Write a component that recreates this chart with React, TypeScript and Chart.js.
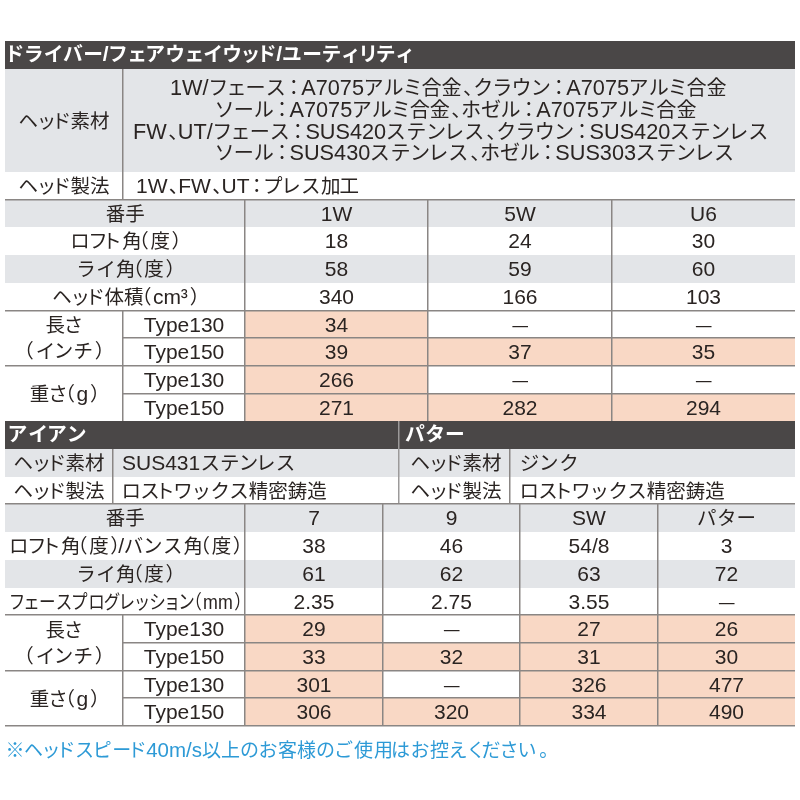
import React, { useEffect, useRef } from "react";
import { Chart, registerables } from "chart.js";

Chart.register(...registerables);

// ---------- data ----------
const driverTitle = "ドライバー/フェアウェイウッド/ユーティリティ";
const driverMaterialLines = [
  "1W/フェース：A7075アルミ合金、クラウン：A7075アルミ合金",
  "ソール：A7075アルミ合金、ホゼル：A7075アルミ合金",
  "FW、UT/フェース：SUS420ステンレス、クラウン：SUS420ステンレス",
  "ソール：SUS430ステンレス、ホゼル：SUS303ステンレス",
];
const driverMethod = "1W、FW、UT：プレス加工";
const driverClubs = ["1W", "5W", "U6"];
const driverLoft = [18, 24, 30];
const driverLie = [58, 59, 60];
const driverVolume = [340, 166, 103];
const driverLength130: (number | null)[] = [34, null, null];
const driverLength150: (number | null)[] = [39, 37, 35];
const driverWeight130: (number | null)[] = [266, null, null];
const driverWeight150: (number | null)[] = [271, 282, 294];

const ironTitle = "アイアン";
const ironMaterial = "SUS431ステンレス";
const ironMethod = "ロストワックス精密鋳造";
const putterTitle = "パター";
const putterMaterial = "ジンク";
const putterMethod = "ロストワックス精密鋳造";
const ironClubs = ["7", "9", "SW", "パター"];
const ironLoft = ["38", "46", "54/8", "3"];
const ironLie = [61, 62, 63, 72];
const ironProgression: (number | null)[] = [2.35, 2.75, 3.55, null];
const ironLength130: (number | null)[] = [29, null, 27, 26];
const ironLength150: (number | null)[] = [33, 32, 31, 30];
const ironWeight130: (number | null)[] = [301, null, 326, 477];
const ironWeight150: (number | null)[] = [306, 320, 334, 490];

const labelMaterial = "ヘッド素材";
const labelMethod = "ヘッド製法";
const labelClub = "番手";
const labelLoft = "ロフト角（度）";
const labelLoftBounce = "ロフト角（度）/バンス角（度）";
const labelLie = "ライ角（度）";
const labelVolume = "ヘッド体積（cm³）";
const labelProgression = "フェースプログレッション（mm）";
const labelLength = ["長さ", "（インチ）"];
const labelWeight = "重さ（g）";
const typeLabels = ["Type130", "Type150"];
const note = "※ヘッドスピード40m/s以上のお客様のご使用はお控えください。";

// ---------- layout (table units) ----------
const TABLE_W = 790;
const MATERIAL_ROWS = 3.73;
const Y_HEAD1 = 0;
const Y_MAT = 1;
const Y_METHOD = Y_MAT + MATERIAL_ROWS;
const Y_T1 = Y_METHOD + 1;
const Y_HEAD2 = Y_T1 + 8;
const Y_IRONHEAD = Y_HEAD2 + 1;
const Y_T2 = Y_IRONHEAD + 2;
const TOTAL_ROWS = Y_T2 + 8;

const SUB_X = 118;
const LABEL_X = 240;
const T1_COLS = [240, 423, 607, 790];
const T2_COLS = [240, 378, 515, 653, 790];
const IRON_SPLIT = 108;
const SEP_X = 394;
const PUTTER_X = 397;
const PUTTER_SPLIT = 505;
const MATERIAL_LINE_X = [165, 210, 128, 210];

// ---------- styles ----------
const C_DARK = "#4a4747";
const C_GRAY = "#e3e5e8";
const C_SALMON = "#f9d8c5";
const C_LINE = "#8a8684";
const C_TEXT = "#2a2422";
const C_BLUE = "#2d9ad6";
const CJK_FAMILY = '"Noto Sans CJK JP", sans-serif';
const LAT_FAMILY = '"Liberation Sans", Arial, sans-serif';
const PAD = 0.08;
const PUNCT_W: Record<string, number> = { "（": 0.5, "）": 0.5, "：": 0.75, "、": 0.55, "。": 0.6 };

type TextStyle = { cjk: number; lat: number; weight?: number; color?: string; maxW?: number };
const BODY: TextStyle = { cjk: 19.5, lat: 21 };
const MATERIAL: TextStyle = { cjk: 20.1, lat: 21.7 };

const fmt = (v: number | null, digits = 0) => (v === null ? "—" : v.toFixed(digits));
const isLatin = (ch: string) => (ch.codePointAt(0) as number) < 0x2000;

function drawRich(
  ctx: CanvasRenderingContext2D,
  s: string,
  x: number,
  yc: number,
  align: "left" | "center" | "right",
  st: TextStyle
) {
  const w = st.weight || 400;
  const cjkFont = `${w} ${st.cjk}px ${CJK_FAMILY}`;
  const latFont = `${w} ${st.lat}px ${LAT_FAMILY}`;
  const chars = Array.from(s);
  const items: { t: string; font: string; dx: number; adv: number }[] = [];
  let total = 0;
  let i = 0;
  ctx.textAlign = "left";
  ctx.textBaseline = "alphabetic";
  while (i < chars.length) {
    if (isLatin(chars[i])) {
      let run = "";
      while (i < chars.length && isLatin(chars[i])) run += chars[i++];
      ctx.font = latFont;
      const wd = ctx.measureText(run).width;
      items.push({ t: run, font: latFont, dx: 0, adv: wd });
      total += wd;
    } else {
      const ch = chars[i++];
      ctx.font = cjkFont;
      const m = ctx.measureText(ch);
      const ink = m.actualBoundingBoxLeft + m.actualBoundingBoxRight;
      let adv = ink > 0 ? Math.min(m.width, ink + 2 * PAD * st.cjk) : m.width;
      if (PUNCT_W[ch] !== undefined) adv = Math.max(adv, PUNCT_W[ch] * st.cjk);
      const dx = ink > 0 ? (adv - ink) / 2 + m.actualBoundingBoxLeft : 0;
      items.push({ t: ch, font: cjkFont, dx, adv });
      total += adv;
    }
  }
  const scale = st.maxW && total > st.maxW ? st.maxW / total : 1;
  const drawnW = total * scale;
  const x0 = align === "left" ? x : align === "center" ? x - drawnW / 2 : x - drawnW;
  const yb = yc + 0.37 * st.cjk;
  ctx.save();
  ctx.fillStyle = st.color || C_TEXT;
  ctx.translate(x0, yb);
  ctx.scale(scale, 1);
  let cx = 0;
  for (const it of items) {
    ctx.font = it.font;
    ctx.fillText(it.t, cx + it.dx, 0);
    cx += it.adv;
  }
  ctx.restore();
}

const tablePlugin = {
  id: "specTable",
  afterDraw(chart: any) {
    const ctx: CanvasRenderingContext2D = chart.ctx;
    const xs = chart.scales.x;
    const ys = chart.scales.y;
    const X = (v: number) => Math.round(xs.getPixelForValue(v));
    const Y = (v: number) => Math.round(ys.getPixelForValue(v));
    ctx.save();
    const rect = (x0: number, x1: number, y0: number, y1: number, c: string) => {
      ctx.fillStyle = c;
      ctx.fillRect(X(x0), Y(y0), X(x1) - X(x0), Y(y1) - Y(y0));
    };
    const hl = (x0: number, x1: number, y: number, c = C_LINE) => {
      ctx.fillStyle = c;
      ctx.fillRect(X(x0), Y(y) - 1, X(x1) - X(x0), 1.5);
    };
    const vl = (x: number, y0: number, y1: number, c = C_LINE) => {
      ctx.fillStyle = c;
      ctx.fillRect(X(x) - 1, Y(y0), 1.5, Y(y1) - Y(y0));
    };
    const txt = (
      s: string,
      x: number,
      y: number,
      align: "left" | "center" | "right" = "center",
      st: TextStyle = BODY
    ) => drawRich(ctx, s, xs.getPixelForValue(x), ys.getPixelForValue(y), align, st);
    const mid = (a: number, b: number) => (a + b) / 2;
    const HEAD: TextStyle = { cjk: 19.8, lat: 21, weight: 700, color: "#ffffff" };

    // ===== Driver section =====
    rect(0, TABLE_W, Y_HEAD1, Y_HEAD1 + 1, C_DARK);
    txt(driverTitle, 3, Y_HEAD1 + 0.46, "left", HEAD);
    rect(0, TABLE_W, Y_MAT, Y_METHOD, C_GRAY);
    vl(SUB_X, Y_MAT, Y_T1);
    txt(labelMaterial, mid(0, SUB_X), mid(Y_MAT, Y_METHOD));
    const matMid = mid(Y_MAT, Y_METHOD);
    driverMaterialLines.forEach((line, i) => {
      txt(line, MATERIAL_LINE_X[i], matMid + (i - 1.5) * 0.78, "left", MATERIAL);
    });
    txt(labelMethod, mid(0, SUB_X), Y_METHOD + 0.5);
    txt(driverMethod, SUB_X + 13, Y_METHOD + 0.5, "left");

    // driver rows
    rect(0, TABLE_W, Y_T1, Y_T1 + 1, C_GRAY);
    rect(0, TABLE_W, Y_T1 + 2, Y_T1 + 3, C_GRAY);
    const dRowsTyped = [driverLength130, driverLength150, driverWeight130, driverWeight150];
    dRowsTyped.forEach((vals, r) => {
      vals.forEach((v, c) => {
        if (v !== null) rect(T1_COLS[c], T1_COLS[c + 1], Y_T1 + 4 + r, Y_T1 + 5 + r, C_SALMON);
      });
    });
    hl(0, TABLE_W, Y_T1);
    T1_COLS.slice(0, 3).forEach((x) => vl(x, Y_T1, Y_T1 + 8));
    vl(SUB_X, Y_T1 + 4, Y_T1 + 8);
    hl(0, TABLE_W, Y_T1 + 4);
    hl(SUB_X, TABLE_W, Y_T1 + 5);
    hl(0, TABLE_W, Y_T1 + 6);
    hl(SUB_X, TABLE_W, Y_T1 + 7);

    const dSimple: [string, string[]][] = [
      [labelClub, driverClubs],
      [labelLoft, driverLoft.map((v) => String(v))],
      [labelLie, driverLie.map((v) => String(v))],
      [labelVolume, driverVolume.map((v) => String(v))],
    ];
    dSimple.forEach(([lab, vals], r) => {
      const y = Y_T1 + r + 0.5;
      txt(lab, mid(0, LABEL_X), y);
      vals.forEach((v, c) => txt(v, mid(T1_COLS[c], T1_COLS[c + 1]), y));
    });
    dRowsTyped.forEach((vals, r) => {
      const y = Y_T1 + 4 + r + 0.5;
      txt(typeLabels[r % 2], mid(SUB_X, LABEL_X), y);
      vals.forEach((v, c) => txt(fmt(v), mid(T1_COLS[c], T1_COLS[c + 1]), y));
    });
    txt(labelLength[0], mid(0, SUB_X), Y_T1 + 5 - 0.47);
    txt(labelLength[1], mid(0, SUB_X), Y_T1 + 5 + 0.47);
    txt(labelWeight, mid(0, SUB_X), Y_T1 + 7);

    // ===== Iron / Putter section =====
    rect(0, TABLE_W, Y_HEAD2, Y_HEAD2 + 1, C_DARK);
    txt(ironTitle, 3, Y_HEAD2 + 0.46, "left", HEAD);
    txt(putterTitle, PUTTER_X + 3, Y_HEAD2 + 0.46, "left", HEAD);
    rect(0, TABLE_W, Y_IRONHEAD, Y_IRONHEAD + 1, C_GRAY);
    vl(SEP_X, Y_HEAD2, Y_T2, "#9c9a9a");
    vl(IRON_SPLIT, Y_IRONHEAD, Y_T2);
    vl(PUTTER_SPLIT, Y_IRONHEAD, Y_T2);
    txt(labelMaterial, mid(0, IRON_SPLIT), Y_IRONHEAD + 0.5);
    txt(labelMethod, mid(0, IRON_SPLIT), Y_IRONHEAD + 1.5);
    txt(ironMaterial, IRON_SPLIT + 9, Y_IRONHEAD + 0.5, "left");
    txt(ironMethod, IRON_SPLIT + 9, Y_IRONHEAD + 1.5, "left");
    txt(labelMaterial, mid(PUTTER_X, PUTTER_SPLIT), Y_IRONHEAD + 0.5);
    txt(labelMethod, mid(PUTTER_X, PUTTER_SPLIT), Y_IRONHEAD + 1.5);
    txt(putterMaterial, PUTTER_SPLIT + 10, Y_IRONHEAD + 0.5, "left");
    txt(putterMethod, PUTTER_SPLIT + 10, Y_IRONHEAD + 1.5, "left");

    rect(0, TABLE_W, Y_T2, Y_T2 + 1, C_GRAY);
    rect(0, TABLE_W, Y_T2 + 2, Y_T2 + 3, C_GRAY);
    const iRowsTyped = [ironLength130, ironLength150, ironWeight130, ironWeight150];
    iRowsTyped.forEach((vals, r) => {
      vals.forEach((v, c) => {
        if (v !== null) rect(T2_COLS[c], T2_COLS[c + 1], Y_T2 + 4 + r, Y_T2 + 5 + r, C_SALMON);
      });
    });
    hl(0, TABLE_W, Y_T2);
    T2_COLS.slice(0, 4).forEach((x) => vl(x, Y_T2, Y_T2 + 8));
    vl(SUB_X, Y_T2 + 4, Y_T2 + 8);
    hl(0, TABLE_W, Y_T2 + 4);
    hl(SUB_X, TABLE_W, Y_T2 + 5);
    hl(0, TABLE_W, Y_T2 + 6);
    hl(SUB_X, TABLE_W, Y_T2 + 7);
    hl(0, TABLE_W, Y_T2 + 8);

    const iSimple: [string, string[], number][] = [
      [labelClub, ironClubs, 0],
      [labelLoftBounce, ironLoft, 232],
      [labelLie, ironLie.map((v) => String(v)), 0],
      [labelProgression, ironProgression.map((v) => fmt(v, 2)), 232],
    ];
    iSimple.forEach(([lab, vals, mw], r) => {
      const y = Y_T2 + r + 0.5;
      txt(lab, mid(0, LABEL_X), y, "center", mw ? { ...BODY, maxW: mw } : BODY);
      vals.forEach((v, c) => txt(v, mid(T2_COLS[c], T2_COLS[c + 1]), y));
    });
    iRowsTyped.forEach((vals, r) => {
      const y = Y_T2 + 4 + r + 0.5;
      txt(typeLabels[r % 2], mid(SUB_X, LABEL_X), y);
      vals.forEach((v, c) => txt(fmt(v), mid(T2_COLS[c], T2_COLS[c + 1]), y));
    });
    txt(labelLength[0], mid(0, SUB_X), Y_T2 + 5 - 0.47);
    txt(labelLength[1], mid(0, SUB_X), Y_T2 + 5 + 0.47);
    txt(labelWeight, mid(0, SUB_X), Y_T2 + 7);

    // note
    txt(note, 1, TOTAL_ROWS + 0.86, "left", { cjk: 19, lat: 20.5, color: C_BLUE });
    ctx.restore();
  },
};

export default function App() {
  const ref = useRef<HTMLCanvasElement | null>(null);
  useEffect(() => {
    document.body.style.margin = "0";
    const canvas = ref.current;
    if (!canvas) return;
    const chart = new Chart(canvas, {
      type: "scatter",
      data: { datasets: [{ data: [], pointRadius: 0 }] },
      options: {
        responsive: false,
        animation: false,
        devicePixelRatio: 1,
        events: [],
        layout: { padding: { left: 5, right: 5, top: 41, bottom: 74 } },
        plugins: { legend: { display: false }, tooltip: { enabled: false } },
        scales: {
          x: { type: "linear", min: 0, max: TABLE_W, display: false },
          y: { type: "linear", min: 0, max: TOTAL_ROWS, reverse: true, display: false },
        },
      },
      plugins: [tablePlugin],
    });
    return () => chart.destroy();
  }, []);
  return (
    <div style={{ width: 800, height: 800, background: "#ffffff" }}>
      <canvas ref={ref} width={800} height={800} style={{ display: "block" }} />
    </div>
  );
}
